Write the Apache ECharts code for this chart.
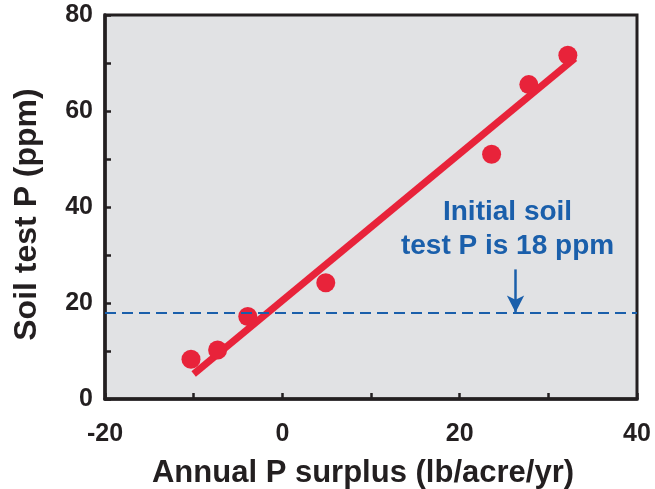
<!DOCTYPE html>
<html>
<head>
<meta charset="utf-8">
<script src="https://cdn.jsdelivr.net/npm/echarts@6/dist/echarts.min.js"></script>
<style>
  html, body { margin: 0; padding: 0; background: #fff; }
  #chart { width: 655px; height: 489px; }
</style>
</head>
<body>
<div id="chart"></div>
<script>
// measured points (annual P surplus, soil test P)
const surplus = [-10.3, -7.3, -3.9, 4.9, 23.6, 27.8, 32.2]
const soilP = [8.3, 10.2, 17.2, 24.2, 51.0, 65.5, 71.6]
// fitted line end points as drawn
const fitX = [-10.0, 33.0]
const fitY = [5.2, 71.0]
const initialP = 18
const arrowX = 26.3
const arrowTop = 27
const noteAt = [25.4, 35.3]
const noteLines = ['Initial soil', 'test P is 18 ppm']

const RED = '#e8233a'
const BLUE = '#1a5fab'
const INK = '#231f20'
const FONT = 'Liberation Sans, Arial, Helvetica, sans-serif'

const chart = echarts.init(document.getElementById('chart'))

const axisCommon = {
  axisLine: { onZero: false, lineStyle: { color: INK, width: 3.5 } },
  axisTick: { inside: true, length: 6, lineStyle: { color: INK, width: 2.5 } },
  splitLine: { show: false },
  axisLabel: {
    color: INK,
    fontFamily: FONT,
    fontWeight: 'bold',
    fontSize: 25,
    formatter: v => (v % 20 === 0 ? String(v) : '')
  },
  nameTextStyle: { color: INK, fontFamily: FONT, fontWeight: 'bold', fontSize: 31 }
}

chart.setOption({
  animation: false,
  grid: {
    left: 105, right: 18, top: 15, bottom: 90,
    outerBoundsMode: 'none',
    show: true,
    backgroundColor: '#e1e2e4',
    borderColor: INK,
    borderWidth: 3
  },
  xAxis: {
    ...axisCommon,
    type: 'value',
    min: -20,
    max: 40,
    interval: 10,
    name: 'Annual P surplus (lb/acre/yr)',
    nameLocation: 'middle',
    nameGap: 59,
    nameTextStyle: { ...axisCommon.nameTextStyle, padding: [0, 16, 0, 0] },
    axisLabel: { ...axisCommon.axisLabel, margin: 23 }
  },
  yAxis: {
    ...axisCommon,
    type: 'value',
    min: 0,
    max: 80,
    interval: 10,
    name: 'Soil test P (ppm)',
    nameLocation: 'middle',
    nameGap: 62,
    nameTextStyle: { ...axisCommon.nameTextStyle, fontSize: 32, padding: [0, 15, 0, 0] },
    axisLabel: { ...axisCommon.axisLabel, margin: 12 }
  },
  series: [
    {
      type: 'line',
      data: fitX.map((x, i) => [x, fitY[i]]),
      symbol: 'none',
      silent: true,
      lineStyle: { color: RED, width: 7, opacity: 1 },
      z: 3,
      markLine: {
        silent: true,
        symbol: 'none',
        label: { show: false },
        lineStyle: { color: BLUE, width: 2, type: [11, 6], opacity: 1 },
        data: [{ yAxis: initialP }]
      }
    },
    {
      type: 'scatter',
      data: surplus.map((x, i) => [x, soilP[i]]),
      symbolSize: 19,
      itemStyle: { color: RED, opacity: 1 },
      z: 4,
      markLine: {
        silent: true,
        symbol: ['none', 'arrow'],
        symbolSize: [13, 17],
        label: { show: false },
        lineStyle: { color: BLUE, width: 2.5, type: 'solid', opacity: 1 },
        data: [[{ coord: [arrowX, arrowTop] }, { coord: [arrowX, initialP] }]]
      }
    },
    {
      type: 'scatter',
      data: [noteAt],
      symbolSize: 0,
      silent: true,
      itemStyle: { opacity: 1 },
      label: {
        show: true,
        position: 'inside',
        formatter: noteLines.join('\n'),
        color: BLUE,
        opacity: 1,
        fontFamily: FONT,
        fontWeight: 'bold',
        fontSize: 28,
        lineHeight: 34,
        align: 'center'
      }
    }
  ]
})
</script>
</body>
</html>
